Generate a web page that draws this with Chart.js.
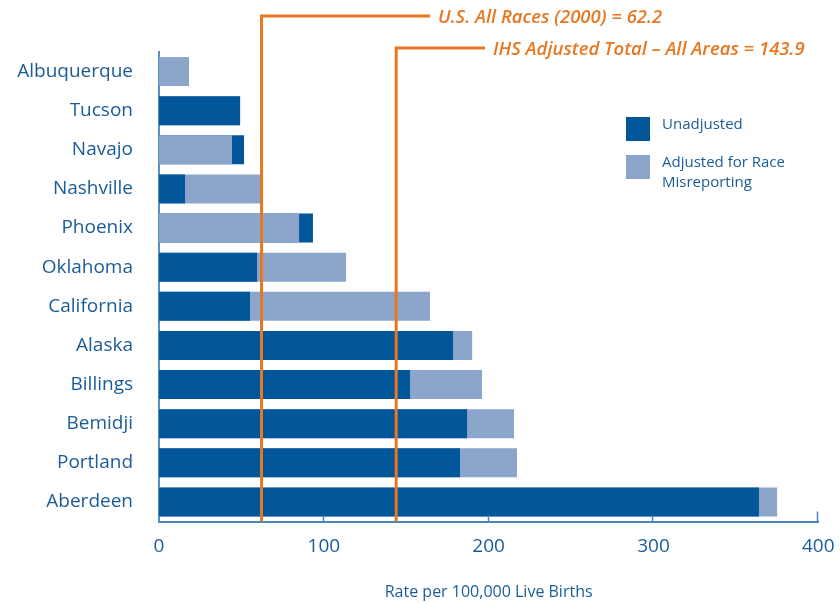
<!DOCTYPE html>
<html>
<head>
<meta charset="utf-8">
<script src="https://cdn.jsdelivr.net/npm/chart.js@4"></script>
<style>
  html, body { margin: 0; padding: 0; background: #ffffff; }
  #wrap { width: 840px; height: 604px; position: relative; }
</style>
</head>
<body>
<div id="wrap"><canvas id="c" width="840" height="604"></canvas></div>
<script>
const categories = ['Albuquerque', 'Tucson', 'Navajo', 'Nashville', 'Phoenix', 'Oklahoma',
  'California', 'Alaska', 'Billings', 'Bemidji', 'Portland', 'Aberdeen'];
const unadjusted = [null, 49.2, 51.6, 15.8, 93.4, 59.5, 55.2, 178.4, 152.3, 186.9, 182.6, 364];
const adjusted = [18.2, 49.2, 44.3, 63.1, 85, 113.5, 164.4, 190, 196, 215.4, 217.2, 375];
const xTicks = [0, 100, 200, 300, 400];
const refLines = [
  { value: 62.2, label: 'U.S. All Races (2000) = 62.2' },
  { value: 143.9, label: 'IHS Adjusted Total \u2013 All Areas = 143.9' }
];
const legendLabels = [['Unadjusted'], ['Adjusted for Race', 'Misreporting']];

const DARK = '#02579A';
const LIGHT = '#8BA5CB';
const ORANGE = '#E87722';
const TEXT = '#1A5C98';
const AXIS = '#4A84BA';
const FONT = "'Open Sans', 'Noto Sans', sans-serif";

const overlapPlugin = {
  id: 'overlap',
  beforeDatasetsDraw(chart) {
    const ctx = chart.ctx;
    const metas = chart.getSortedVisibleDatasetMetas();
    for (let i = 0; i < chart.data.labels.length; i++) {
      const els = metas.map(m => m.data[i]).filter(e => e && !e.skip && isFinite(e.x)).reverse();
      els.sort((a, b) => Math.abs(b.x - b.base) - Math.abs(a.x - a.base));
      els.forEach(e => e.draw(ctx));
    }
    return false;
  }
};

const decorPlugin = {
  id: 'decor',
  afterDraw(chart) {
    const ctx = chart.ctx;
    const xs = chart.scales.x;
    const area = chart.chartArea;
    ctx.save();
    // upward tick marks on x axis
    ctx.strokeStyle = AXIS;
    ctx.lineWidth = 1.5;
    xTicks.forEach(v => {
      if (v === 0) return;
      const px = Math.round(xs.getPixelForValue(v)) - 0.5;
      ctx.beginPath();
      ctx.moveTo(px, area.bottom);
      ctx.lineTo(px, area.bottom - (v === 400 ? 10 : 6));
      ctx.stroke();
    });
    // reference lines
    const tops = [16, 48];
    const ends = [430, 485];
    const gaps = [8, 8];
    ctx.strokeStyle = ORANGE;
    ctx.lineWidth = 3;
    ctx.fillStyle = ORANGE;
    ctx.font = "italic 600 18.5px " + FONT;
    ctx.textBaseline = 'middle';
    ctx.textAlign = 'left';
    refLines.forEach((r, k) => {
      const px = xs.getPixelForValue(r.value);
      ctx.beginPath();
      ctx.moveTo(px, area.bottom);
      ctx.lineTo(px, tops[k]);
      ctx.lineTo(ends[k], tops[k]);
      ctx.stroke();
      ctx.fillText(r.label, ends[k] + gaps[k], tops[k] + 2);
    });
    // legend
    const colors = [DARK, LIGHT];
    const boxY = [117, 155];
    ctx.font = "15px " + FONT;
    legendLabels.forEach((lines, k) => {
      ctx.fillStyle = colors[k];
      ctx.fillRect(626, boxY[k], 24, 24);
      ctx.fillStyle = TEXT;
      ctx.textBaseline = 'alphabetic';
      lines.forEach((t, j) => ctx.fillText(t, 662, boxY[k] + 12 + j * 20));
    });
    ctx.restore();
  }
};

new Chart(document.getElementById('c'), {
  type: 'bar',
  data: {
    labels: categories,
    datasets: [
      { label: 'Unadjusted', data: unadjusted, backgroundColor: DARK, grouped: false,
        barPercentage: 0.74, categoryPercentage: 1 },
      { label: 'Adjusted for Race Misreporting', data: adjusted, backgroundColor: LIGHT, grouped: false,
        barPercentage: 0.74, categoryPercentage: 1 }
    ]
  },
  options: {
    indexAxis: 'y',
    responsive: false,
    animation: false,
    devicePixelRatio: 1,
    layout: { padding: { top: 52, right: 21.7, bottom: 0, left: 0 } },
    plugins: { legend: { display: false }, tooltip: { enabled: false } },
    scales: {
      x: {
        min: 0, max: 400,
        afterBuildTicks(scale) { scale.ticks = xTicks.map(v => ({ value: v })); },
        afterFit(scale) { scale.height = 82.5; scale.paddingRight = 0; scale.paddingLeft = 0; },
        grid: { display: false, drawTicks: false },
        border: { display: true, color: AXIS, width: 2 },
        ticks: { color: TEXT, font: { family: FONT, size: 19 }, padding: 14 },
        title: { display: true, text: 'Rate per 100,000 Live Births', color: TEXT,
          font: { family: FONT, size: 16 }, padding: { top: 0, bottom: 2 } }
      },
      y: {
        afterFit(scale) { scale.width = 159; scale.paddingTop = 0; scale.paddingBottom = 0; },
        grid: { display: false, drawTicks: false },
        border: { display: true, color: '#5A8FC2', width: 2 },
        ticks: { color: TEXT, font: { family: FONT, size: 19 }, padding: 26 }
      }
    }
  },
  plugins: [overlapPlugin, decorPlugin]
});
</script>
</body>
</html>
